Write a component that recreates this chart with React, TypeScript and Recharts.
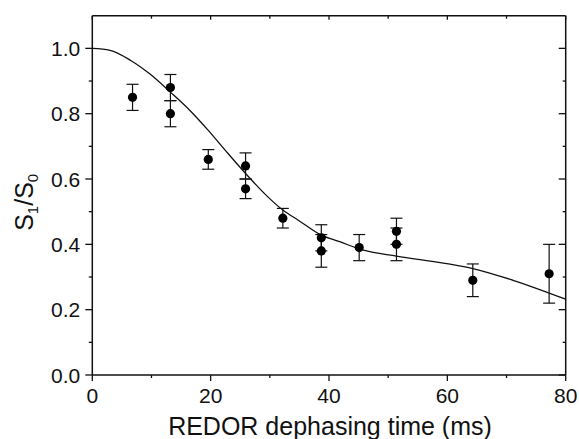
import React from 'react';
import { ComposedChart, Line, Scatter, XAxis, YAxis, ErrorBar } from 'recharts';

const FONT = '"Liberation Sans", Arial, Helvetica, sans-serif';
const INK = '#111';

// Fitted curve (REDOR dephasing time in ms, S1/S0)
const curveTime = [0, 3, 6.5, 9.7, 13.2, 16.5, 19.6, 22.7, 25.9, 29.4, 32.2, 34.8, 38.7, 41.8, 45.8, 51.4, 59.9, 64.3, 71.1, 80];
const curveRatio = [1.0, 0.994, 0.963, 0.922, 0.866, 0.81, 0.749, 0.683, 0.617, 0.55, 0.505, 0.474, 0.428, 0.408, 0.382, 0.364, 0.341, 0.326, 0.29, 0.232];

// Measured points with error bars
const pointTime = [6.8, 13.2, 13.2, 19.6, 25.9, 25.9, 32.2, 38.7, 38.7, 45.1, 51.4, 51.4, 64.3, 77.2];
const pointRatio = [0.85, 0.88, 0.80, 0.66, 0.64, 0.57, 0.48, 0.42, 0.38, 0.39, 0.44, 0.40, 0.29, 0.31];
const pointError = [0.04, 0.04, 0.04, 0.03, 0.04, 0.03, 0.03, 0.04, 0.05, 0.04, 0.04, 0.05, 0.05, 0.09];

// Tick labels
const xMajorTicks = [0, 20, 40, 60, 80];
const xMinorTicks = [10, 30, 50, 70];
const yMajorTicks = [0, 0.2, 0.4, 0.6, 0.8, 1.0];
const yMinorTicks = [0.1, 0.3, 0.5, 0.7, 0.9];

const curveData = curveTime.map((x, i) => ({ x, y: curveRatio[i] }));
const pointData = pointTime.map((x, i) => ({ x, y: pointRatio[i], err: pointError[i] }));

const xTicks = [...xMajorTicks, ...xMinorTicks].sort((a, b) => a - b);
const yTicks = [...yMajorTicks, ...yMinorTicks].sort((a, b) => a - b);
const isMajorX = (v: number) => xMajorTicks.some((t) => Math.abs(t - v) < 1e-9);
const isMajorY = (v: number) => yMajorTicks.some((t) => Math.abs(t - v) < 1e-9);

const BottomTick = (props: any) => {
  const { x, y, payload } = props;
  const major = isMajorX(payload.value);
  return (
    <g>
      <line x1={x} x2={x} y1={y} y2={y + (major ? 6 : 3)} stroke={INK} strokeWidth={1.3} />
      {major && (
        <text x={x} y={y + 28} textAnchor="middle" fontSize={21} fontFamily={FONT} fill={INK}>
          {payload.value}
        </text>
      )}
    </g>
  );
};

const TopTick = (props: any) => {
  const { x, y, payload } = props;
  const major = isMajorX(payload.value);
  return <line x1={x} x2={x} y1={y} y2={y + (major ? 4 : 3)} stroke={INK} strokeWidth={1.3} />;
};

const LeftTick = (props: any) => {
  const { x, y, payload } = props;
  const major = isMajorY(payload.value);
  return (
    <g>
      <line x1={x - (major ? 7 : 3.5)} x2={x} y1={y} y2={y} stroke={INK} strokeWidth={1.3} />
      {major && (
        <text x={x - 12} y={y + 7.5} textAnchor="end" fontSize={21} fontFamily={FONT} fill={INK}>
          {Number(payload.value).toFixed(1)}
        </text>
      )}
    </g>
  );
};

const RightTick = (props: any) => {
  const { x, y, payload } = props;
  const major = isMajorY(payload.value);
  return <line x1={x - (major ? 7 : 3)} x2={x} y1={y} y2={y} stroke={INK} strokeWidth={1.3} />;
};

const Dot = (props: any) => <circle cx={props.cx} cy={props.cy} r={4.6} fill="#000" />;

const XTitle = (props: any) => {
  const vb = props.viewBox || {};
  return (
    <text x={vb.x + vb.width / 2 + 1} y={vb.y + 60} textAnchor="middle" fontSize={25} fontFamily={FONT} fill={INK}>
      REDOR dephasing time (ms)
    </text>
  );
};

const YTitle = (props: any) => {
  const vb = props.viewBox || {};
  const cx = vb.x + 33;
  const cy = vb.y + vb.height / 2 + 7;
  return (
    <text
      x={cx}
      y={cy}
      textAnchor="middle"
      fontSize={25}
      fontFamily={FONT}
      fill={INK}
      transform={`rotate(-90, ${cx}, ${cy})`}
    >
      S
      <tspan fontSize={15} dy={5}>1</tspan>
      <tspan dy={-5}>/S</tspan>
      <tspan fontSize={15} dy={5}>0</tspan>
    </text>
  );
};

export default function App() {
  return (
    <div style={{ position: 'absolute', left: 0, top: 0, width: 579, height: 439, background: '#fff' }}>
      <ComposedChart width={579} height={439} margin={{ top: 14.7, right: 12.3, bottom: 0, left: 0 }}>
        <XAxis
          xAxisId="bottom"
          type="number"
          dataKey="x"
          domain={[0, 80]}
          ticks={xTicks}
          interval={0}
          allowDataOverflow
          height={64}
          tickSize={0}
          tickMargin={0}
          tickLine={false}
          tick={<BottomTick />}
          axisLine={{ stroke: INK, strokeWidth: 1.5 }}
          label={{ content: <XTitle /> }}
        />
        <XAxis
          xAxisId="top"
          orientation="top"
          type="number"
          dataKey="x"
          domain={[0, 80]}
          ticks={xTicks}
          interval={0}
          allowDataOverflow
          height={1}
          tickSize={0}
          tickMargin={0}
          tickLine={false}
          tick={<TopTick />}
          axisLine={{ stroke: INK, strokeWidth: 1.5 }}
        />
        <YAxis
          yAxisId="left"
          type="number"
          domain={[0, 1.1]}
          ticks={yTicks}
          interval={0}
          allowDataOverflow
          width={92.3}
          tickSize={0}
          tickMargin={0}
          tickLine={false}
          tick={<LeftTick />}
          axisLine={{ stroke: INK, strokeWidth: 1.5 }}
          label={{ content: <YTitle /> }}
        />
        <YAxis
          yAxisId="right"
          orientation="right"
          type="number"
          domain={[0, 1.1]}
          ticks={yTicks}
          interval={0}
          allowDataOverflow
          width={1}
          tickSize={0}
          tickMargin={0}
          tickLine={false}
          tick={<RightTick />}
          axisLine={{ stroke: INK, strokeWidth: 1.5 }}
        />
        <Line
          xAxisId="bottom"
          yAxisId="left"
          data={curveData}
          dataKey="y"
          type="monotone"
          stroke={INK}
          strokeWidth={1.3}
          dot={false}
          activeDot={false}
          isAnimationActive={false}
        />
        <Scatter
          xAxisId="bottom"
          yAxisId="left"
          data={pointData}
          dataKey="y"
          shape={<Dot />}
          isAnimationActive={false}
        >
          <ErrorBar dataKey="err" direction="y" width={6} stroke={INK} strokeWidth={1.2} isAnimationActive={false} />
        </Scatter>
      </ComposedChart>
    </div>
  );
}
